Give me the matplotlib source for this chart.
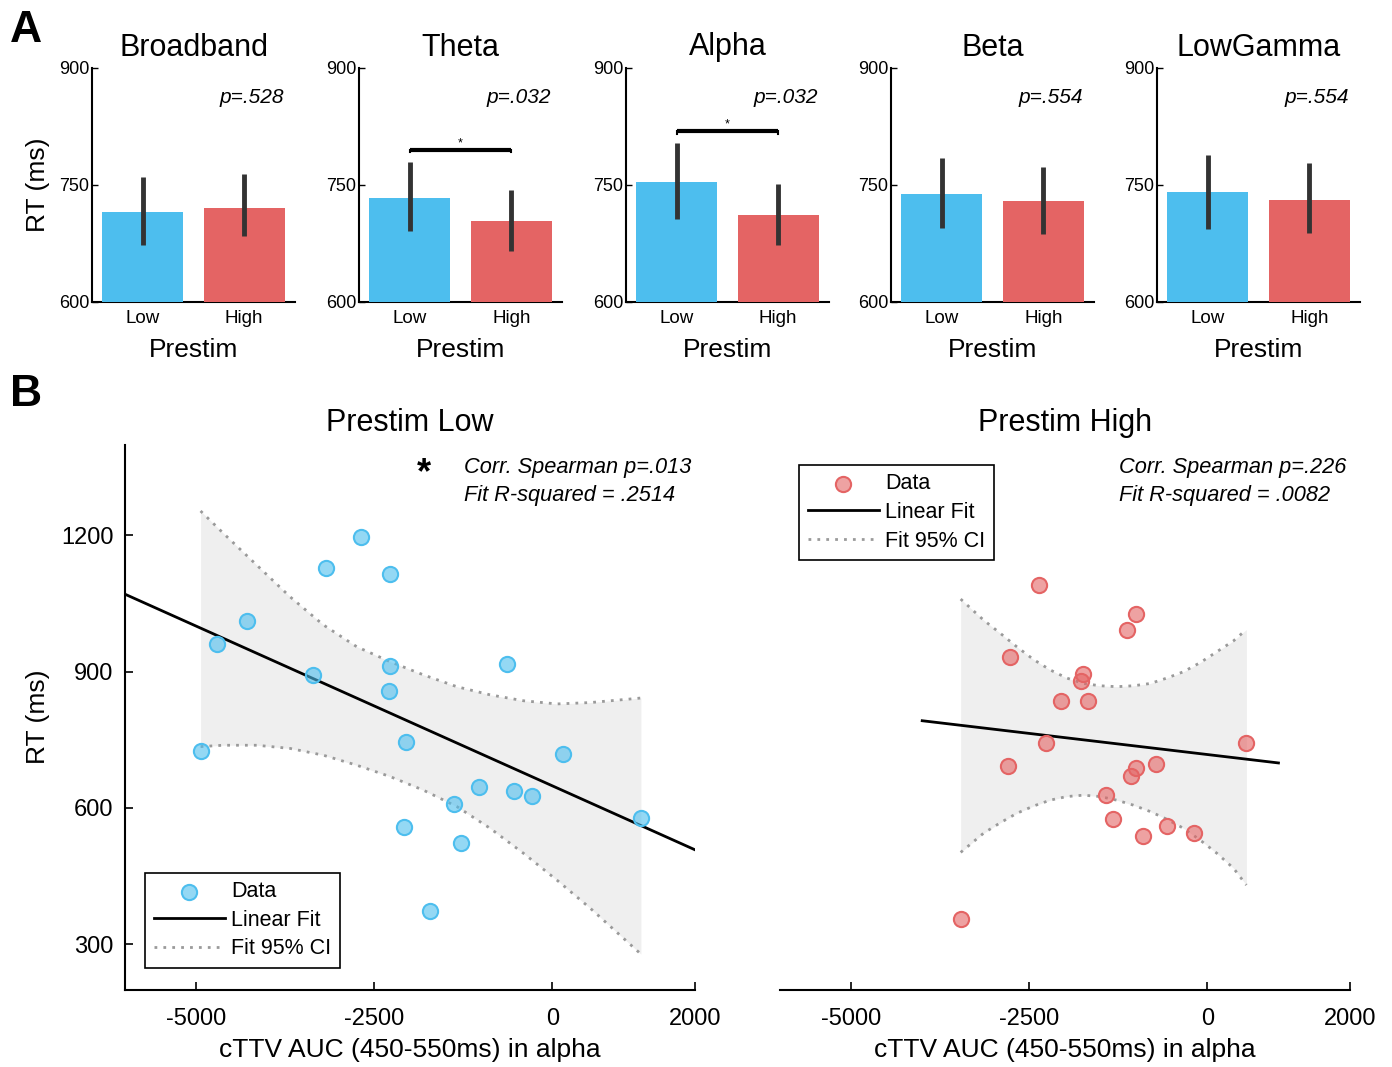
import numpy as np
import matplotlib
matplotlib.use('Agg')
import matplotlib.pyplot as plt

plt.rcParams['font.family'] = ['Liberation Sans', 'DejaVu Sans']
plt.rcParams['axes.unicode_minus'] = False

blue = '#4DBEEE'
red = '#E46464'

# ---- Panel A: mean RT per band, low vs high prestim ----
bands = ['Broadband', 'Theta', 'Alpha', 'Beta', 'LowGamma']
rt_low = [715, 733, 754, 738, 741]
rt_high = [721, 704, 712, 729, 731]
low_lo = [673, 691, 706, 695, 694]
low_hi = [760, 780, 804, 784, 789]
high_lo = [684, 665, 673, 687, 689]
high_hi = [764, 743, 751, 773, 778]
p_bar = ['p=.528', 'p=.032', 'p=.032', 'p=.554', 'p=.554']
sig_y = [None, 795, 819, None, None]
conds = ['Low', 'High']

# ---- Panel B: cTTV AUC vs RT ----
low_x = [-4935, -4705, -4290, -3355, -3170, -2680, -2270, -2270, -2295, -2050,
         -2080, -1715, -1385, -1285, -1030, -640, -540, -290, 150, 1245]
low_y = [725, 960, 1012, 892, 1128, 1197, 1115, 912, 857, 745,
         557, 374, 609, 522, 645, 916, 637, 626, 718, 578]
high_x = [-3460, -2790, -2766, -2359, -2257, -2050, -1769, -1746, -1667, -1418,
          -1316, -1128, -1067, -1001, -1001, -903, -721, -566, -183, 550]
high_y = [355, 692, 932, 1091, 744, 836, 880, 895, 836, 628,
          576, 992, 671, 687, 1028, 539, 696, 560, 544, 744]

fit_low_x = [-6000, 2000]
fit_low_y = [1071, 508]
fit_high_x = [-4000, 1000]
fit_high_y = [792, 699]

ci_low_x = [-4935, -4616, -4148, -3679, -3211, -2743, -2275, -1807, -1339, -871, -403, 66, 534, 1245]
ci_low_up = [1254, 1205, 1135, 1065, 1003, 955, 922, 893, 867, 849, 836, 829, 832, 842]
ci_low_dn = [735, 738, 738, 731, 716, 694, 669, 639, 603, 555, 500, 441, 379, 278]

ci_high_x = [-3460, -3141, -2907, -2673, -2439, -2205, -1971, -1737, -1503, -1269,
             -1035, -800, -566, -332, -98, 136, 370, 550]
ci_high_up = [1060, 1014, 985, 955, 927, 904, 886, 874, 869, 867,
              869, 874, 886, 900, 920, 944, 968, 993]
ci_high_dn = [502, 544, 567, 588, 604, 617, 625, 628, 625, 617,
              606, 592, 575, 555, 529, 500, 467, 430]

stats_low = ['Corr. Spearman p=.013', 'Fit R-squared = .2514']
stats_high = ['Corr. Spearman p=.226', 'Fit R-squared = .0082']

W, H = 1392.0, 1067.0
fig = plt.figure(figsize=(W / 100, H / 100), dpi=100)

lefts = [92, 359, 626, 891, 1157]
for i, band in enumerate(bands):
    ax = fig.add_axes([lefts[i] / W, 1 - 302 / H, 203 / W, 234 / H])
    ax.bar([1, 2], [rt_low[i], rt_high[i]], width=0.8, color=[blue, red], zorder=3)
    ax.vlines([1, 2], [low_lo[i], high_lo[i]], [low_hi[i], high_hi[i]],
              color='#333333', lw=3.5, zorder=4)
    if sig_y[i] is not None:
        y = sig_y[i]
        ax.plot([1, 2], [y, y], color='k', lw=3, zorder=4, solid_capstyle='butt')
        ax.plot([1, 1], [y, y - 3], color='k', lw=1.5)
        ax.plot([2, 2], [y, y - 3], color='k', lw=1.5)
        ax.text(1.5, y + 1, '*', fontsize=9, ha='center', va='bottom')
    ax.text(0.945, 0.876, p_bar[i], transform=ax.transAxes, ha='right', va='center',
            style='italic', fontsize=15)
    ax.set_xlim(0.5, 2.5)
    ax.set_ylim(600, 900)
    ax.set_yticks([600, 750, 900])
    ax.set_xticks([1, 2])
    ax.set_xticklabels(conds)
    ax.tick_params(axis='y', direction='in', length=4, width=1, labelsize=13, pad=2)
    ax.tick_params(axis='x', length=0, labelsize=13.5, pad=6)
    ax.set_xlabel('Prestim', fontsize=19, labelpad=8)
    ax.set_title(band, fontsize=22, pad=9)
    for s in ['top', 'right']:
        ax.spines[s].set_visible(False)
    for s in ['left', 'bottom']:
        ax.spines[s].set_linewidth(1.5)
    if i == 0:
        ax.set_ylabel('RT (ms)', fontsize=19)
        ax.yaxis.set_label_coords((50 - 92) / 203.0, 0.5)

fig.text(10 / W, 1 - 31 / H, 'A', fontsize=32, fontweight='bold', va='center')
fig.text(10 / W, 1 - 394 / H, 'B', fontsize=32, fontweight='bold', va='center')

panels = [
    (124.7, 'Prestim Low', low_x, low_y, fit_low_x, fit_low_y, ci_low_x, ci_low_up, ci_low_dn,
     blue, stats_low),
    (779.7, 'Prestim High', high_x, high_y, fit_high_x, fit_high_y, ci_high_x, ci_high_up,
     ci_high_dn, red, stats_high),
]
for k, (x0, title, px, py, fx, fy, cx, cu, cd, col, stats) in enumerate(panels):
    ax = fig.add_axes([x0 / W, 1 - 989.5 / H, 570 / W, 544.8 / H])
    ax.fill_between(cx, cd, cu, color='#efefef', lw=0, zorder=1)
    ci_line, = ax.plot(cx, cu, color='#9a9a9a', lw=2, ls=(0, (1, 2.2)), zorder=2)
    ax.plot(cx, cd, color='#9a9a9a', lw=2, ls=(0, (1, 2.2)), zorder=2)
    fit_line, = ax.plot(fx, fy, color='k', lw=2, zorder=3)
    face = matplotlib.colors.to_rgba(col, 0.6)
    sc = ax.scatter(px, py, s=120, facecolor=face, edgecolor=col, linewidth=1.5, zorder=4)
    ax.set_xlim(-6000, 2000)
    ax.set_ylim(200, 1400)
    ax.set_xticks([-5000, -2500, 0, 2000])
    ax.tick_params(axis='x', direction='in', length=6, width=1.2, labelsize=17, pad=13)
    ax.set_xlabel('cTTV AUC (450-550ms) in alpha', fontsize=19, labelpad=6)
    ax.set_title(title, fontsize=22, pad=10)
    for s in ['top', 'right']:
        ax.spines[s].set_visible(False)
    ax.spines['bottom'].set_linewidth(1.5)
    ax.spines['left'].set_linewidth(1.5)
    if k == 0:
        ax.set_yticks([300, 600, 900, 1200])
        ax.tick_params(axis='y', direction='in', length=6, width=1.2, labelsize=17, pad=8)
        ax.set_ylabel('RT (ms)', fontsize=19)
        ax.yaxis.set_label_coords((50 - 124.7) / 570.0, 0.5)
        ax.text(0.5254, 0.946, '*', transform=ax.transAxes, fontsize=26, fontweight='bold',
                ha='center', va='center')
        leg_kw = dict(loc='lower left', bbox_to_anchor=(0.0356, 0.0395))
    else:
        ax.spines['left'].set_visible(False)
        ax.set_yticks([])
        leg_kw = dict(loc='upper left', bbox_to_anchor=(0.034, 0.963))
    ax.text(0.5956, 0.959, stats[0], transform=ax.transAxes, style='italic', fontsize=15.7,
            ha='left', va='center')
    ax.text(0.5956, 0.906, stats[1], transform=ax.transAxes, style='italic', fontsize=15.7,
            ha='left', va='center')
    leg = ax.legend([sc, fit_line, ci_line], ['Data', 'Linear Fit', 'Fit 95% CI'],
                    fontsize=15.5, fancybox=False, framealpha=1, edgecolor='k',
                    borderaxespad=0, borderpad=0.4, handlelength=3.3, handletextpad=0.3,
                    labelspacing=0.35, scatterpoints=1, **leg_kw)
    leg.get_frame().set_linewidth(1.2)

fig.savefig('out.png', dpi=100)
